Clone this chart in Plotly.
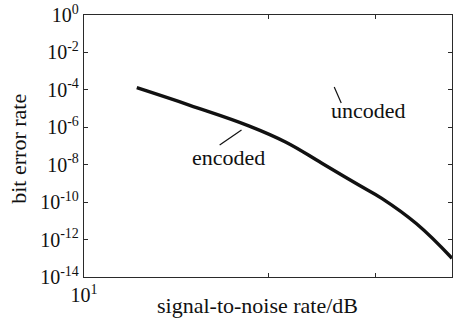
import plotly.graph_objects as go

# Data (log-log)
snr_db = [12.2, 14.9, 18.6, 21.4, 24.5, 28.2, 30.7, 35.0, 40.0]
ber_encoded = [1.3e-4, 1.5e-5, 1.2e-6, 1.6e-7, 1.2e-8, 8e-10, 1.6e-10, 7e-12, 1.0e-13]

y_tick_exponents = [0, -2, -4, -6, -8, -10, -12, -14]
y_tick_labels = ["10<sup>%d</sup>" % e if e == 0 else "10<sup>-%d</sup>" % abs(e) for e in y_tick_exponents]
x_tick_vals = [10, 20, 30, 40]
x_tick_labels = ["10<sup>1</sup>", "", "", ""]

FONT = "Liberation Serif, Times New Roman, serif"
INK = "#111111"

fig = go.Figure()
fig.add_trace(go.Scatter(
    x=snr_db, y=ber_encoded, mode="lines",
    line=dict(color=INK, width=3.4, shape="spline", smoothing=1.2),
    showlegend=False, hoverinfo="skip",
))

axis_common = dict(
    showline=True, linecolor="#2a2a2a", linewidth=1.3, mirror="ticks",
    ticks="inside", ticklen=4, tickcolor="#2a2a2a", tickwidth=1, showgrid=False, zeroline=False,
    tickfont=dict(family=FONT, size=20, color=INK), automargin=False,
)

fig.update_xaxes(
    type="log", range=[1, 1.60206],
    tickvals=x_tick_vals, ticktext=x_tick_labels,
    **axis_common,
)
fig.update_yaxes(
    type="log", range=[-14, 0],
    tickvals=[10.0 ** e for e in y_tick_exponents], ticktext=y_tick_labels,
    **axis_common,
)

# Axis titles
fig.add_annotation(x=0.4715, y=-0.107, xref="paper", yref="paper", text="signal-to-noise rate/dB",
                   showarrow=False, xanchor="center", yanchor="middle",
                   font=dict(family=FONT, size=22, color=INK))
fig.add_annotation(x=-0.179, y=0.49, xref="paper", yref="paper", text="bit error rate",
                   showarrow=False, textangle=-90, xanchor="center", yanchor="middle",
                   font=dict(family=FONT, size=22, color=INK))

# Curve labels and pointer lines
fig.add_annotation(x=0.772, y=0.634, xref="paper", yref="paper", text="uncoded",
                   showarrow=False, xanchor="center", yanchor="middle",
                   font=dict(family=FONT, size=22, color=INK))
fig.add_annotation(x=0.393, y=0.458, xref="paper", yref="paper", text="encoded",
                   showarrow=False, xanchor="center", yanchor="middle",
                   font=dict(family=FONT, size=22, color=INK))
fig.add_shape(type="line", xref="paper", yref="paper", x0=0.680, y0=0.725, x1=0.699, y1=0.664,
              line=dict(color=INK, width=1.2))
fig.add_shape(type="line", xref="paper", yref="paper", x0=0.3686, y0=0.5038, x1=0.428, y1=0.561,
              line=dict(color=INK, width=1.2))

fig.update_layout(
    width=454, height=320,
    margin=dict(l=84, r=2, t=15, b=43),
    paper_bgcolor="white", plot_bgcolor="white",
    font=dict(family=FONT, color=INK),
)

fig.write_html(
    "out.html",
    config={"displayModeBar": False},
    post_script="document.body.style.margin='0';document.documentElement.style.overflow='hidden';document.body.style.overflow='hidden';",
)
